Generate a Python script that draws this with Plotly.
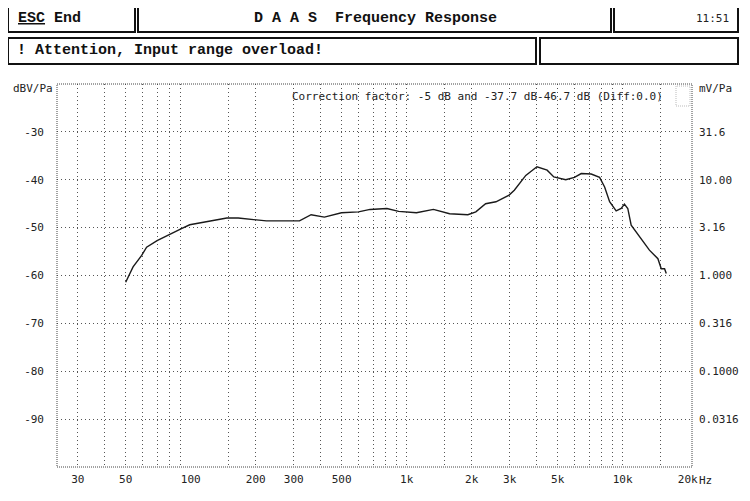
import plotly.graph_objects as go

# ---- data ----
freq_hz = [50, 54.1, 59.3, 62.5, 69.9, 79, 90.6, 99, 122, 147, 166, 194, 224, 319, 361, 416,
           499, 598, 677, 810, 918, 1110, 1330, 1580, 1920, 2090, 2320, 2590, 2980, 3150,
           3560, 4010, 4470, 4800, 5450, 5980, 6430, 7150, 7820, 8250, 8700, 9330, 9840,
           10190, 10560, 10950, 11970, 13300, 14560, 15090, 15630, 15920]
level_dbv = [-61.4, -58.2, -55.8, -54.1, -52.7, -51.6, -50.2, -49.4, -48.7, -48.0, -48.0, -48.3,
             -48.6, -48.6, -47.3, -47.8, -46.9, -46.7, -46.2, -46.0, -46.6, -46.9, -46.2, -47.1,
             -47.3, -46.7, -45.0, -44.6, -43.2, -42.2, -39.1, -37.3, -38.0, -39.4, -40.0, -39.5,
             -38.7, -38.8, -39.5, -41.5, -44.6, -46.5, -46.0, -45.1, -46.0, -49.5, -52.0, -54.7,
             -56.5, -58.6, -58.6, -59.6]

grid_freqs = [30, 40, 50, 60, 70, 80, 90, 150, 200, 300, 400, 500, 600, 700, 800, 900,
              1000, 1500, 2000, 3000, 4000, 5000, 6000, 7000, 8000, 9000, 10000, 15000]
x_tick_vals = [30, 50, 100, 200, 300, 500, 1000, 2000, 3000, 5000, 10000, 20000]
x_tick_text = ["30", "50", "100", "200", "300", "500", "1k", "2k", "3k", "5k", "10k", "20k"]
y_tick_vals = [-30, -40, -50, -60, -70, -80, -90]
y_tick_text = ["-30", "-40", "-50", "-60", "-70", "-80", "-90"]
mv_tick_text = ["31.6", "10.00", "3.16", "1.000", "0.316", "0.1000", "0.0316"]

title_text = "D\u00a0A\u00a0A\u00a0S\u00a0\u00a0Frequency\u00a0Response"
warn_text = "!\u00a0Attention,\u00a0Input\u00a0range\u00a0overload!"
corr_text = "Correction factor: -5 dB and -37.7 dB-46.7 dB (Diff:0.0)"

# ---- geometry (page has an 8px body margin, so shift everything) ----
OFF = 8
FW, FH = 750 - OFF, 501 - OFF
L, R, T, B = 57 - OFF, 692 - OFF, 84 - OFF, 467 - OFF
W, H = R - L, B - T
def px(x): return (x - OFF - L) / W
def py(y): return (B - (y - OFF)) / H

SMALL = dict(family="DejaVu Sans Mono", size=11, color="#222")
BIG = dict(family="Liberation Mono", size=15, color="#111")
GRID = "#555"

fig = go.Figure()
fig.add_trace(go.Scatter(x=freq_hz, y=level_dbv, mode="lines",
                         line=dict(color="#1a1a1a", width=1.4), hoverinfo="skip"))
fig.add_trace(go.Scatter(x=[], y=[], yaxis="y2", mode="lines", hoverinfo="skip"))

fig.update_layout(
    width=FW, height=FH,
    margin=dict(l=L, r=FW - R, t=T, b=FH - B, pad=0),
    paper_bgcolor="white", plot_bgcolor="white", showlegend=False,
    xaxis=dict(type="log", range=[1.381, 4.321], tickmode="array",
               tickvals=x_tick_vals, ticktext=x_tick_text, showgrid=False,
               zeroline=False, showline=False, ticks="", tickfont=SMALL,
               ticklabelstandoff=4,
               minor=dict(tickmode="array", tickvals=grid_freqs, showgrid=True,
                          griddash="1px,3px", gridcolor=GRID, gridwidth=1, ticks="")),
    yaxis=dict(range=[-100, -20], tickmode="array", tickvals=y_tick_vals,
               ticktext=y_tick_text, showgrid=True, griddash="1px,3px",
               gridcolor=GRID, gridwidth=1, zeroline=False, showline=False,
               ticks="", tickfont=SMALL, ticklabelstandoff=12),
    yaxis2=dict(range=[-100, -20], overlaying="y", side="right", tickmode="array",
                tickvals=y_tick_vals, ticktext=mv_tick_text, showgrid=False,
                zeroline=False, showline=False, ticks="", tickfont=SMALL,
                ticklabelstandoff=6),
)

shapes = []
# plot frame (dense dotted)
shapes.append(dict(type="rect", xref="paper", yref="paper", x0=0, x1=1, y0=0, y1=1,
                   line=dict(color="#444", width=1, dash="1px,1px")))
# screen border dotted edge (right)
shapes.append(dict(type="line", xref="paper", yref="paper", x0=px(746), x1=px(746),
                   y0=py(8), y1=py(501), line=dict(color="#999", width=1, dash="1px,1px")))
# header boxes
for (x0, y0, x1, y1) in [(8, 6, 135, 32), (138, 6, 611, 32), (614, 6, 738, 32),
                         (8, 38, 536, 64), (540, 38, 738, 64)]:
    shapes.append(dict(type="rect", xref="paper", yref="paper", x0=px(x0), x1=px(x1),
                       y0=py(y1), y1=py(y0), line=dict(color="#111", width=2)))
# faint icon in top-right corner of the plot
shapes.append(dict(type="rect", xref="paper", yref="paper", x0=px(676), x1=px(690),
                   y0=py(106), y1=py(86), line=dict(color="#bbb", width=1, dash="1px,1px")))
fig.update_layout(shapes=shapes)

ann = []
ann.append(dict(text="<b><u>ESC</u>\u00a0End</b>", x=px(16), y=py(19), xanchor="left",
                yanchor="middle", font=BIG))
ann.append(dict(text="<b>" + title_text + "</b>", x=px(375), y=py(19), xanchor="center",
                yanchor="middle", font=BIG))
ann.append(dict(text="11:51", x=px(731), y=py(19), xanchor="right", yanchor="middle",
                font=SMALL))
ann.append(dict(text="<b>" + warn_text + "</b>", x=px(15), y=py(51), xanchor="left",
                yanchor="middle", font=BIG))
ann.append(dict(text=corr_text, x=px(665), y=py(97), xanchor="right", yanchor="middle",
                font=SMALL))
ann.append(dict(text="dBV/Pa", x=px(55), y=py(88), xanchor="right", yanchor="middle",
                font=SMALL))
ann.append(dict(text="mV/Pa", x=px(697), y=py(88), xanchor="left", yanchor="middle",
                font=SMALL))
ann.append(dict(text="Hz", x=px(697), y=py(480), xanchor="left", yanchor="middle",
                font=SMALL))
for a in ann:
    a.update(xref="paper", yref="paper", showarrow=False)
fig.update_layout(annotations=ann)

fig.write_html("out.html")
